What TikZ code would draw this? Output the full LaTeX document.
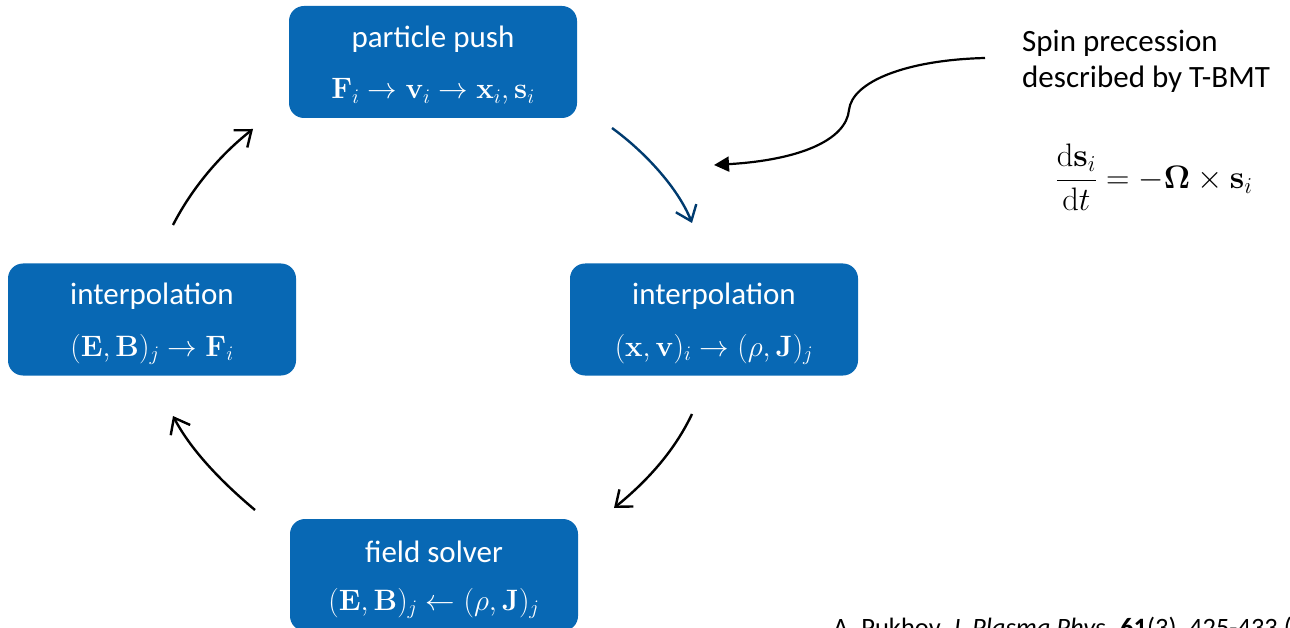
\RequirePackage{fix-cm}
\documentclass[tikz,border=0pt]{standalone}
\usepackage{amsmath}
\usepackage[no-math]{fontspec}
\setmainfont{Carlito}
\usetikzlibrary{arrows.meta}

\definecolor{boxblue}{HTML}{0868B4}
\definecolor{navy}{HTML}{003B6F}

\tikzset{
  stage/.style={draw=none, fill=boxblue, rounded corners=15pt,
    minimum width=288pt, minimum height=112pt, inner sep=0pt},
  title/.style={anchor=base, text=white, inner sep=0pt,
    font=\fontsize{31}{37}\selectfont},
  formula/.style={anchor=base, text=white, inner sep=0pt,
    font=\fontsize{29.5}{35}\selectfont},
  cycle/.style={line width=2.4pt, draw=black,
    -{Straight Barb[length=14pt,width=22pt,line width=2.4pt]}},
  note/.style={anchor=base west, inner sep=0pt,
    font=\fontsize{31}{37}\selectfont},
}

\begin{document}
\begin{tikzpicture}[x=1pt,y=-1pt]
\useasboundingbox (0,0) rectangle (1290,628);
\clip (0,0) rectangle (1290,628);

% the four stages of the PIC loop
\node[stage] (pp) at (433,62)  {};
\node[stage] (ir) at (714,319.5) {};
\node[stage] (il) at (152,319.5) {};
\node[stage] (fs) at (434,575) {};

\node[title]   (pp-t) at (433,48)  {particle push};
\node[formula] (pp-m) at (433,99)  {$\mathbf{F}_i \rightarrow \mathbf{v}_i \rightarrow \mathbf{x}_i, \mathbf{s}_i$};

\node[title]   (ir-t) at (714,305) {interpolation};
\node[formula] (ir-m) at (714,356) {$(\mathbf{x}, \mathbf{v})_i \rightarrow (\rho, \mathbf{J})_j$};

\node[title]   (il-t) at (152,305) {interpolation};
\node[formula] (il-m) at (152,356) {$(\mathbf{E}, \mathbf{B})_j \rightarrow \mathbf{F}_i$};

\node[title]   (fs-t) at (434,562) {field solver};
\node[formula] (fs-m) at (434,610) {$(\mathbf{E}, \mathbf{B})_j \leftarrow (\rho, \mathbf{J})_j$};

% loop arrows between the stages
\coordinate (a1s) at (173,225);  \coordinate (a1e) at (253,129);
\coordinate (a2s) at (612,128);  \coordinate (a2e) at (692,223);
\coordinate (a3s) at (692,414);  \coordinate (a3e) at (614,508);
\coordinate (a4s) at (255,510);  \coordinate (a4e) at (173,416);

\draw[cycle] (a1s) .. controls (192,188) and (220,155) .. (a1e);
\draw[cycle, draw=navy] (a2s) .. controls (645,152) and (678,188) .. (a2e);
\draw[cycle] (a3s) .. controls (674,452) and (646,482) .. (a3e);
\draw[cycle] (a4s) .. controls (224,484) and (192,452) .. (a4e);

% spin note
\node[note] (spin1) at (1022,52) {Spin precession};
\node[note] (spin2) at (1022,88) {described by T-BMT};
\node[inner sep=0pt, font=\fontsize{32.5}{38}\selectfont] (tbmt) at (1154,177)
  {$\dfrac{\mathrm{d}\mathbf{s}_i}{\mathrm{d}t} = -\mathbf{\Omega} \times \mathbf{s}_i$};

\coordinate (sp-s) at (985,58);
\coordinate (sp-m) at (849,110);
\coordinate (sp-e) at (714,165);
\draw[line width=2.2pt, -{Triangle[length=15pt,width=15pt]}]
  (sp-s) .. controls (905,60) and (852,82) .. (sp-m)
         .. controls (846,140) and (800,160) .. (sp-e);

% reference line, running off the lower edge
\node[anchor=base west, inner sep=0pt, font=\fontsize{26.5}{31}\selectfont] (ref) at (833,636)
  {A. Pukhov, \textit{J. Plasma Phys.} \textbf{61}(3), 425-433 (1999)};
\end{tikzpicture}
\end{document}
